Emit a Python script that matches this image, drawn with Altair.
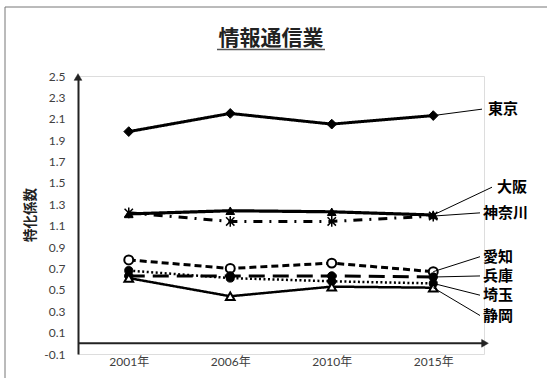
import altair as alt
import pandas as pd

# Survey years and specialization coefficients by prefecture
years = ["2001年", "2006年", "2010年", "2015年"]
prefectures = ["東京", "大阪", "神奈川", "愛知", "兵庫", "埼玉", "静岡"]
tokyo = [1.98, 2.15, 2.05, 2.13]
osaka = [1.21, 1.24, 1.23, 1.20]
kanagawa = [1.22, 1.14, 1.14, 1.19]
aichi = [0.78, 0.70, 0.75, 0.67]
hyogo = [0.63, 0.63, 0.63, 0.62]
saitama = [0.68, 0.61, 0.58, 0.56]
shizuoka = [0.61, 0.44, 0.53, 0.52]
series_values = [tokyo, osaka, kanagawa, aichi, hyogo, saitama, shizuoka]

# Where each name label sits (y in data units) at the right of the plot
label_y = [2.19, 1.46, 1.22, 0.81, 0.63, 0.45, 0.26]
y_ticks = [-0.1, 0.1, 0.3, 0.5, 0.7, 0.9, 1.1, 1.3, 1.5, 1.7, 1.9, 2.1, 2.3, 2.5]

W, H = 406, 278
JP = "Noto Sans CJK JP"

# Line / marker styling per series
styles = {
    "東京": dict(dash=[1, 0], sw=3, shape="diamond", size=95, fill="black", msw=1),
    "大阪": dict(dash=[1, 0], sw=3.2, shape="triangle-up", size=75, fill="black", msw=1),
    "神奈川": dict(dash=[9, 7, 2, 7], sw=3,
                 shape="M-1,-1L1,1M1,-1L-1,1M0,-1.3L0,1.3", size=70, fill=None, msw=1.5),
    "愛知": dict(dash=[7, 4], sw=3, shape="circle", size=80, fill="white", msw=2),
    "兵庫": dict(dash=[16, 8], sw=3, shape="circle", size=70, fill="black", msw=1),
    "埼玉": dict(dash=[2, 2.5], sw=2.5, shape="circle", size=65, fill="black", msw=1),
    "静岡": dict(dash=[1, 0], sw=2.5, shape="triangle-up", size=75, fill="white", msw=2),
}
label_x = {"東京": (404, 410), "大阪": (414, 419), "神奈川": (402, 405)}

x_scale = alt.Scale(domain=years, type="point", padding=0.5)
y_scale = alt.Scale(domain=[-0.1, 2.5], nice=False, zero=False)

x_axis = alt.Axis(title=None, domain=False, ticks=False, labelAngle=0,
                  labelPadding=2, labelFont=f"Lato, {JP}", labelFontSize=12,
                  labelColor="#404040")
y_axis = alt.Axis(title=None, values=y_ticks, grid=False, ticks=False,
                  domain=True, domainColor="#222222", domainWidth=2,
                  labelPadding=13, labelFont="Lato", labelFontSize=12,
                  labelColor="#404040", labelOverlap=False, labelBound=False,
                  labelFlush=False,
                  labelExpr="replace(format(datum.value, '.1f'), '−', '-')")
x_enc = alt.X("year:N", scale=x_scale, sort=years, axis=x_axis)
y_enc = alt.Y("value:Q", scale=y_scale, axis=y_axis)

lines = []
markers = []
for name, vals, ly in zip(prefectures, series_values, label_y):
    st = styles[name]
    df = pd.DataFrame({"year": years, "value": vals, "name": name})
    base = alt.Chart(df)
    lines.append(base.mark_line(color="black", strokeWidth=st["sw"],
                                strokeDash=st["dash"]).encode(x=x_enc, y=y_enc))
    if st["fill"] is None:
        pt = base.mark_point(shape=st["shape"], size=st["size"], filled=False,
                             stroke="black", strokeWidth=st["msw"], opacity=1)
    else:
        pt = base.mark_point(shape=st["shape"], size=st["size"], filled=True,
                             fill=st["fill"], stroke="black", strokeWidth=st["msw"],
                             opacity=1)
    markers.append(pt.encode(x=x_enc, y=y_enc))

    # Leader line from the last point to the name label
    lx, tx = label_x.get(name, (402, 405))
    last = pd.DataFrame({"year": [years[-1]], "value": [vals[-1]],
                         "label_y": [ly], "name": [name]})
    lb = alt.Chart(last)
    markers.append(lb.mark_rule(color="black", strokeWidth=1).encode(
        x=x_enc, x2=alt.value(lx), y=y_enc, y2="label_y:Q"))
    markers.append(lb.mark_text(align="left", baseline="middle", font=JP,
                                fontWeight="bold", fontSize=15, color="black").encode(
        x=alt.value(tx), y=alt.Y("label_y:Q", scale=y_scale, axis=y_axis),
        text="name:N"))

one = alt.Chart(pd.DataFrame({"k": [0]}))

# Horizontal axis line at zero with arrowhead, and arrowhead on vertical axis
x_axis_line = one.mark_rule(color="#222222", strokeWidth=2).encode(
    x=alt.value(0), x2=alt.value(W), y=alt.datum(0, scale=y_scale, axis=y_axis))
x_arrow = one.mark_point(shape="triangle-right", filled=True, fill="#222222",
                         stroke="#222222", strokeWidth=0.5,
                         size=60, opacity=1).encode(
    x=alt.value(W + 1), y=alt.datum(0, scale=y_scale, axis=y_axis))
y_arrow = one.mark_point(shape="triangle-up", filled=True, fill="#222222",
                         stroke="#222222", strokeWidth=0.5,
                         size=60, opacity=1).encode(
    x=alt.value(0), y=alt.value(1))

# Title with underline, y-axis caption, outer frame
title = one.mark_text(text="情報通信業", font=JP, fontWeight="bold", fontSize=21,
                      color="#222222", baseline="middle", align="center").encode(
    x=alt.value(193), y=alt.value(-37.5))
underline = one.mark_rule(color="#555555", strokeWidth=1.5).encode(
    x=alt.value(139), x2=alt.value(247), y=alt.value(-26.5))
y_title = one.mark_text(text="特化係数", font=JP, fontWeight="bold", fontSize=13.5,
                        color="#222222", angle=270, baseline="middle",
                        align="center").encode(x=alt.value(-47), y=alt.value(139))
frame_top = one.mark_rule(color="#777777", strokeWidth=1).encode(
    x=alt.value(-73), x2=alt.value(W + 80), y=alt.value(-69))
frame_left = one.mark_rule(color="#777777", strokeWidth=1).encode(
    x=alt.value(-73), y=alt.value(-69), y2=alt.value(H + 40))

chart = alt.layer(
    frame_top, frame_left, title, underline, y_title,
    *lines, x_axis_line, *markers, x_arrow, y_arrow
).properties(
    width=W, height=H,
    padding={"left": 78, "top": 76, "right": 547 - 78 - W, "bottom": 378 - 76 - H},
    autosize=alt.AutoSizeParams(type="none"),
).configure_view(stroke=None).configure(background="white")

chart.save("out.html", embed_options={"renderer": "svg", "actions": False})
